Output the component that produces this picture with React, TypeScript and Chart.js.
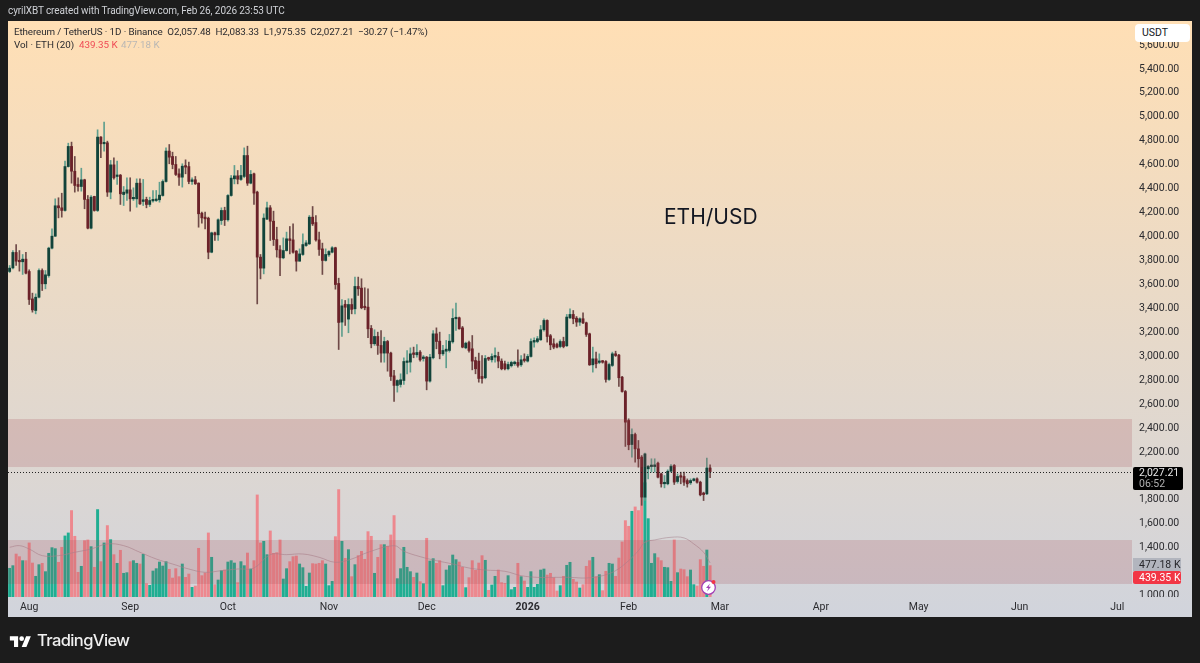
import { useEffect, useRef } from 'react';
import { Chart, registerables } from 'chart.js';

Chart.register(...registerables);

// daily candles, Jul 26 2025 to Feb 26 2026
const opens = [
  3699,3729,3858,3791,3780,3802,3699,3470,3373,3484,
  3707,3596,3665,3894,3994,4248,4231,4209,4576,4744,
  4537,4426,4409,4465,4301,4061,4326,4209,4822,4766,
  4774,4362,4590,4493,4504,4342,4353,4381,4306,4306,
  4437,4284,4301,4259,4289,4292,4298,4334,4451,4705,
  4660,4593,4515,4487,4582,4576,4451,4465,4437,4186,
  4153,4144,3860,4022,4005,4125,4209,4131,4334,4473,
  4498,4468,4493,4668,4437,4515,4362,3819,3727,4136,
  4231,4119,3966,3880,3813,3874,3972,3963,3869,3785,
  3841,3916,3930,4153,4108,3963,3888,3791,3838,3860,
  3897,3599,3276,3425,3301,3423,3387,3574,3560,3407,
  3401,3223,3095,3156,3081,3017,3114,3017,2827,2747,
  2755,2788,2939,2942,3017,3003,3025,2972,2983,2783,
  2978,3178,3117,3011,3033,3039,3111,3304,3312,3228,
  3061,3106,3053,2955,2950,2822,2811,2975,2961,2983,
  2989,2950,2928,2886,2911,2928,2939,2919,2961,2950,
  2989,3109,3114,3128,3212,3290,3162,3095,3089,3072,
  3114,3078,3312,3340,3309,3276,3304,3270,3178,2919,
  2969,2939,2947,2947,2797,2914,3011,3000,2816,2696,
  2454,2253,2337,2217,2148,1813,2050,2069,2069,2097,
  2008,1925,1925,2030,2078,1944,1989,1986,1952,1933,
  1952,1966,1938,1841,1841,2057.48,
];
const closes = [
  3727,3858,3785,3780,3802,3685,3465,3378,3484,3707,
  3596,3671,3894,3994,4248,4231,4209,4576,4744,4537,
  4418,4409,4465,4301,4061,4320,4209,4822,4766,4774,
  4362,4590,4482,4498,4348,4362,4381,4306,4315,4437,
  4264,4298,4259,4292,4298,4303,4337,4451,4705,4654,
  4593,4510,4487,4579,4571,4451,4465,4432,4181,4147,
  4139,3860,4022,4005,4131,4209,4131,4334,4479,4498,
  4470,4501,4668,4437,4510,4354,3819,3727,4145,4231,
  4119,3966,3880,3813,3874,3972,3958,3860,3785,3846,
  3924,3938,4153,4097,3963,3883,3791,3841,3866,3897,
  3590,3273,3412,3400,3423,3382,3574,3554,3396,3396,
  3220,3095,3156,3081,3017,3114,3017,2822,2747,2788,
  2794,2947,2947,3011,3006,3022,2961,2983,2783,2983,
  3178,3114,3011,3039,3050,3117,3307,3312,3220,3067,
  3100,3039,2950,2886,2805,2805,2972,2967,2989,2997,
  2950,2886,2886,2922,2939,2942,2914,2961,2955,2989,
  3114,3123,3137,3212,3290,3156,3086,3067,3067,3114,
  3072,3318,3340,3304,3276,3304,3270,3173,2919,2969,
  2928,2950,2941,2797,2922,3011,2997,2811,2696,2440,
  2251,2337,2217,2134,1813,2175,2072,2078,2083,1980,
  1925,1933,2030,2072,1939,1986,1980,1938,1925,1952,
  1966,1938,1833,1835,2057,2027.21,
];
const highs = [
  3749,3874,3924,3874,3841,3860,3713,3518,3512,3721,
  3721,3707,3902,4055,4306,4315,4353,4621,4771,4780,
  4660,4482,4562,4470,4334,4334,4328,4883,4827,4947,
  4788,4627,4649,4621,4510,4409,4482,4482,4398,4473,
  4473,4468,4320,4320,4376,4376,4445,4465,4732,4760,
  4696,4660,4557,4599,4632,4613,4482,4493,4440,4195,
  4195,4153,4028,4028,4139,4231,4236,4342,4501,4585,
  4543,4585,4732,4746,4543,4521,4370,3841,4181,4278,
  4250,4203,4069,3916,3980,4028,4075,4097,3874,3888,
  4014,3958,4167,4242,4167,4028,3936,3888,3874,3908,
  3902,3643,3465,3457,3471,3471,3652,3652,3638,3563,
  3554,3248,3212,3192,3206,3150,3123,3025,2872,2794,
  2844,2978,3039,3061,3067,3089,3039,2997,2989,3006,
  3206,3228,3192,3081,3123,3173,3387,3435,3318,3240,
  3109,3117,3164,2983,3017,2997,2997,2983,3011,3061,
  3025,2969,2950,2942,2950,2950,3045,2997,3011,3006,
  3137,3145,3156,3248,3304,3295,3173,3137,3100,3128,
  3150,3340,3387,3373,3323,3312,3354,3276,3184,3067,
  3025,3011,2955,2955,2933,3025,3033,3006,2822,2705,
  2468,2384,2348,2287,2161,2181,2078,2134,2134,2106,
  2014,1994,2042,2086,2086,2008,2022,2022,1966,1966,
  1972,1975,1947,1855,2139,2083.33,
];
const lows = [
  3690,3721,3749,3702,3674,3679,3423,3359,3345,3479,
  3540,3554,3651,3888,3991,4147,4153,4203,4571,4437,
  4362,4370,4370,4223,4055,4055,4203,4200,4649,4705,
  4326,4306,4470,4426,4259,4250,4292,4203,4292,4236,
  4259,4250,4231,4242,4278,4284,4278,4328,4445,4599,
  4557,4501,4418,4404,4515,4432,4426,4426,4069,4103,
  4055,3805,3855,3958,3958,4092,4083,4119,4328,4431,
  4431,4459,4482,4418,4431,4259,3428,3637,3679,4131,
  3958,3916,3819,3665,3805,3869,3846,3852,3702,3785,
  3833,3908,3924,4083,3952,3833,3674,3785,3824,3855,
  3551,3047,3156,3248,3187,3345,3345,3499,3387,3379,
  3145,3061,3081,3006,2941,2941,2866,2788,2613,2691,
  2733,2755,2844,2858,2978,2983,2950,2950,2710,2774,
  2969,3053,2969,2997,2894,3025,3100,3206,3217,3061,
  3053,3025,2877,2844,2774,2766,2802,2955,2942,2942,
  2894,2877,2877,2877,2900,2914,2900,2905,2942,2942,
  2983,3067,3103,3123,3201,3109,3045,3053,3061,3061,
  3061,3072,3304,3262,3240,3248,3262,3156,2914,2858,
  2894,2928,2933,2774,2788,2905,2989,2738,2691,2237,
  2209,2148,2106,2064,1745,1785,1966,2022,2022,1975,
  1897,1891,1916,2022,1919,1930,1925,1911,1897,1919,
  1947,1930,1824,1785,1835,1975.35,
];
// volume in thousands of ETH
const volumes = [
  402,439,602,565,509,509,757,476,290,453,
  472,355,612,691,677,486,696,855,897,1210,
  850,346,430,789,799,705,416,1224,495,757,
  1000,803,593,472,654,332,341,495,509,472,
  462,598,187,163,364,397,490,434,495,388,
  266,397,285,462,275,322,135,154,682,299,
  336,897,556,173,238,369,378,490,509,476,
  201,495,439,616,392,509,1429,757,780,593,
  925,612,621,799,252,397,495,565,574,462,
  411,149,336,467,462,472,509,462,159,219,
  845,1504,780,542,663,285,453,579,640,528,
  915,850,332,556,733,733,710,869,1140,257,
  397,696,416,355,275,336,215,187,822,504,
  537,472,509,159,378,439,588,523,490,416,
  131,271,509,374,476,579,514,93,168,290,
  378,201,191,299,103,135,472,285,224,135,
  355,135,177,378,392,308,332,271,84,159,
  290,444,486,248,210,126,173,430,509,556,
  285,313,89,360,472,462,290,546,771,1069,
  990,1200,1261,1210,1387,1600,1097,472,607,551,
  509,416,411,219,799,341,392,383,285,378,
  173,154,523,430,658,439.35,
];
// 20-day volume average, read at these candle numbers
const maDays = [0,3,6,10,15,20,25,30,35,40,45,50,55,60,65,70,75,80,85,90,95,100,105,110,118,121,126,131,136,141,146,152,157,162,167,172,177,182,186,190,193,195,198,203,207,210,213,215];
const maValues = [696,719,672,579,579,626,672,743,719,626,532,462,392,346,369,392,406,593,593,602,556,486,532,626,719,640,565,509,462,406,378,360,299,275,275,275,266,299,369,509,649,766,799,836,827,743,626,477.18];

const priceTicks = [1000,1200,1400,1600,1800,2000,2200,2400,2600,2800,3000,3200,3400,3600,3800,4000,4200,4400,4600,4800,5000,5200,5400,5600];
const lastClose = 2027.21;
const zones = [
  [2065, 2466],
  [1088, 1455],
];
const monthNames = ['Jan','Feb','Mar','Apr','May','Jun','Jul','Aug','Sep','Oct','Nov','Dec'];

const labels: string[] = [];
for (let i = 0; i < 345; i++) {
  labels.push(new Date(Date.UTC(2025, 6, 26 + i)).toISOString().slice(0, 10));
}

function tickName(label: string) {
  const [y, m, d] = label.split('-').map(Number);
  if (d !== 1) return null;
  return m === 1 ? String(y) : monthNames[m - 1];
}

const isUp = closes.map((c, i) => c >= opens[i]);

const zonesPlugin = {
  id: 'zones',
  beforeDatasetsDraw(chart: any) {
    // cut the 1,000.00 label where the time axis starts
    chart.ctx.clearRect(chart.chartArea.right, chart.chartArea.bottom, 60, 20);
  },
  afterDatasetsDraw(chart: any) {
    const { ctx, chartArea, scales } = chart;
    ctx.save();
    ctx.fillStyle = 'rgba(165, 68, 80, 0.2)';
    zones.forEach(([lo, hi]) => {
      const top = scales.y.getPixelForValue(hi);
      ctx.fillRect(chartArea.left, top, chartArea.width, scales.y.getPixelForValue(lo) - top);
    });
    const y = Math.round(scales.y.getPixelForValue(lastClose)) + 0.5;
    ctx.strokeStyle = '#222';
    ctx.setLineDash([1, 2]);
    ctx.beginPath();
    ctx.moveTo(chartArea.left, y);
    ctx.lineTo(chartArea.right, y);
    ctx.stroke();
    ctx.restore();
  },
};

const font = 'Roboto, "Noto Sans", sans-serif';

export default function App() {
  const chartRef = useRef<HTMLCanvasElement>(null);

  useEffect(() => {
    document.body.style.margin = '0';
    if (!chartRef.current) return;

    const chart = new Chart(chartRef.current, {
      type: 'bar',
      plugins: [zonesPlugin],
      data: {
        labels,
        datasets: [
          {
            label: 'Volume',
            yAxisID: 'vol',
            data: volumes,
            backgroundColor: isUp.map((u) => (u ? '#1fae92' : 'rgba(240, 128, 134, 0.9)')),
            barThickness: 2.3,
            order: 3,
          },
          {
            type: 'line',
            label: 'Vol MA',
            yAxisID: 'vol',
            data: maDays.map((d, i) => ({ x: labels[d], y: maValues[i] })),
            borderColor: 'rgba(170, 140, 150, 0.6)',
            borderWidth: 1,
            pointRadius: 0,
            tension: 0.4,
            order: 2,
          },
          {
            label: 'Wick',
            data: lows.map((l, i) => [l, highs[i]]),
            backgroundColor: isUp.map((u) => (u ? '#5f9f8e' : '#6f4a48')),
            barThickness: 1,
            order: 1,
          },
          {
            label: 'Body',
            data: opens.map((o, i) => [o, closes[i]]),
            backgroundColor: isUp.map((u) => (u ? '#12433a' : '#6b2229')),
            barThickness: 2.2,
            minBarLength: 1.5,
            order: 0,
          },
        ] as any,
      },
      options: {
        animation: false,
        responsive: false,
        layout: { padding: { left: 8, top: 21, right: 8, bottom: 46 } },
        plugins: { legend: { display: false }, tooltip: { enabled: false } },
        datasets: { bar: { grouped: false } },
        scales: {
          x: {
            offset: true,
            grid: { display: false, drawTicks: false },
            border: { display: false },
            afterFit: (scale: any) => {
              scale.height = 20;
            },
            ticks: {
              z: 1,
              autoSkip: false,
              maxRotation: 0,
              padding: 4,
              color: '#2b2b2f',
              font: (ctx: any) => ({
                family: font,
                size: 10.5,
                weight: ctx.tick && ctx.tick.label === '2026' ? 'bold' : 'normal',
              }),
              callback: (_v: any, i: number) => tickName(labels[i]),
            },
          },
          y: {
            position: 'right',
            min: 979,
            max: 5792,
            grid: { display: false, drawTicks: false },
            border: { display: false },
            afterFit: (scale: any) => {
              scale.width = 60;
            },
            afterBuildTicks: (scale: any) => {
              scale.ticks = priceTicks.map((value) => ({ value }));
            },
            ticks: {
              padding: 7,
              crossAlign: 'near',
              labelOffset: 1,
              color: '#2b2b2f',
              font: { family: font, size: 10.5 },
              callback: (v: any) =>
                Number(v).toLocaleString('en-US', { minimumFractionDigits: 2, maximumFractionDigits: 2 }),
            },
          },
          vol: { display: false, min: 0, max: 8064 },
        },
      } as any,
    });

    return () => chart.destroy();
  }, []);

  const abs = (left: number, top: number, extra: any = {}): any => ({
    position: 'absolute',
    left,
    top,
    whiteSpace: 'nowrap',
    lineHeight: 1,
    ...extra,
  });

  return (
    <div style={{ position: 'relative', width: 1200, height: 663, background: '#1c1c1c', overflow: 'hidden', fontFamily: font }}>
      <div style={{ position: 'absolute', left: 8, top: 21, width: 1184, height: 596, background: 'linear-gradient(#ffdfb5, #d1d4dc)' }} />
      <canvas ref={chartRef} width={1200} height={663} style={{ position: 'absolute', left: 0, top: 0 }} />

      <div style={abs(8, 6, { color: '#cfd1d6', fontSize: 10, letterSpacing: -0.1 })}>cyrilXBT created with TradingView.com, Feb 26, 2026 23:53 UTC</div>
      <div style={abs(14, 27, { color: '#2a2a2e', fontSize: 9.8, letterSpacing: -0.1 })}>
        Ethereum / TetherUS · 1D · Binance&nbsp; O2,057.48&nbsp; H2,083.33&nbsp; L1,975.35&nbsp; C2,027.21&nbsp; −30.27 (−1.47%)
      </div>
      <div style={abs(14, 40, { color: '#2a2a2e', fontSize: 9.8 })}>Vol · ETH (20)</div>
      <div style={abs(79, 40, { color: '#ef4a55', fontSize: 9.8 })}>439.35 K</div>
      <div style={abs(121, 40, { color: '#b9b7b4', fontSize: 9.8 })}>477.18 K</div>

      <div style={abs(664, 206, { color: '#131722', fontSize: 21, fontFamily: 'Inter' })}>ETH/USD</div>

      <div style={{ ...abs(1135, 24), width: 55, height: 18, background: '#fff', borderRadius: 4, color: '#131722', fontSize: 10.5, lineHeight: '18px', textIndent: 7 }}>USDT</div>

      <div style={{ ...abs(1133, 467), width: 50, height: 23, background: '#000', borderRadius: 2, fontSize: 10.5 }}>
        <div style={abs(6, 1, { color: '#e8e8e8' })}>2,027.21</div>
        <div style={abs(6, 12, { color: '#b0b0b0' })}>06:52</div>
      </div>
      <div style={{ ...abs(1133, 558), width: 48, height: 13, background: '#b2b5be', color: '#26262a', fontSize: 10.5, lineHeight: '13px', textIndent: 6 }}>477.18 K</div>
      <div style={{ ...abs(1133, 571), width: 48, height: 13, background: '#f23645', color: '#fff', fontSize: 10.5, lineHeight: '13px', textIndent: 6, borderRadius: 2 }}>439.35 K</div>

      <svg style={abs(700, 578)} width="18" height="18" viewBox="0 0 18 18">
        <circle cx="8.5" cy="9.5" r="6.8" fill="#fff" stroke="#a23fb5" strokeWidth="1.3" />
        <path d="M10 5.5 L6 10 H8.4 L7 13.5 L11 8.8 H8.7 Z" fill="#a23fb5" />
        <circle cx="13.5" cy="4" r="2" fill="#f23645" />
      </svg>

      <svg style={abs(9, 634)} width="23" height="13" viewBox="0 0 36 22">
        <path d="M14 22H7V11H0V4h14v18zM28 22h-8l7.5-18h8L28 22z" fill="#fff" />
        <circle cx="20" cy="8" r="4" fill="#fff" />
      </svg>
      <div style={abs(37, 632, { color: '#f0f0f0', fontSize: 16.5, fontWeight: 500, fontFamily: 'Inter', letterSpacing: -0.6 })}>TradingView</div>
    </div>
  );
}
